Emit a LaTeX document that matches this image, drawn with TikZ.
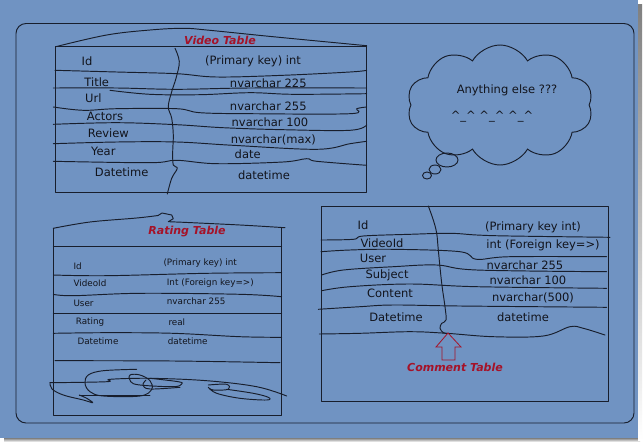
\documentclass[tikz,border=0pt]{standalone}
\usepackage{fontspec}
\setmainfont{DejaVu Sans}
\usetikzlibrary{shapes.symbols}
\definecolor{bg}{RGB}{112,147,194}
\definecolor{ink}{RGB}{24,30,44}
\definecolor{txt}{RGB}{18,20,28}
\definecolor{redink}{RGB}{165,18,40}
\definecolor{shade}{RGB}{150,156,166}
\tikzset{
  pen/.style={draw=ink, line width=0.95pt, line cap=round, line join=round},
  wv/.style={pen, smooth, tension=0.6},
  vt/.style={text=txt, font=\fontsize{11.5}{13}\selectfont, inner sep=0pt},
  rt/.style={text=txt, font=\fontsize{8.8}{10}\selectfont, inner sep=0pt, anchor=west},
  ct/.style={text=txt, font=\fontsize{11.5}{13}\selectfont, inner sep=0pt},
  ttl/.style={text=redink, font=\itshape\bfseries\fontsize{11}{13}\selectfont, inner sep=0pt},
}
\begin{document}
\begin{tikzpicture}[x=1pt,y=-1pt]
\useasboundingbox (0,0) rectangle (644,442);
\fill[white] (0,0) rectangle (644,442);
\fill[shade] (4,438) rectangle (640,442);
\fill[shade] (638,4) rectangle (642,440);
\fill[bg] (0,0) rectangle (638,438);
\draw[pen] (16,23.5) [rounded corners=10pt] rectangle (634,423);

% ---------------- Video table
\draw[pen] (55.7,46.7) -- (366.7,46.7);
\draw[pen] (55.7,46.7) -- (55.7,192) -- (366.7,192) -- (366.7,46);
\draw[wv] plot coordinates {(55.7,46.7) (106.7,35) (150,30) (183,28.3) (206.7,30) (273,36.7) (366.7,45.7)};
\draw[wv] plot coordinates {(175,48.3) (179.3,61.7) (176,78.3) (171.7,91.7) (168.3,106.7) (171.7,118.3) (173.3,135) (172.7,151.7) (173.3,165) (177.3,168.3) (171.7,178.3) (167.3,194)};
\draw[wv] plot coordinates {(55,70.3) (116.7,72) (176.7,73.7) (216.7,77) (283,75.3) (350,72) (366.7,70.3)};
\draw[wv] plot coordinates {(53.3,88) (116.7,88) (176.7,89.3) (250,88) (366.7,88)};
\draw[wv] plot coordinates {(110,90.3) (150,94.3) (200,94.7) (250,92.7) (293.3,94.3) (366.7,93.7)};
\draw[wv] plot coordinates {(53.3,107) (83.3,110.3) (116.7,108.7) (176.7,108.7) (200,112.7) (250,113.7) (350,113.7) (356.7,108.7) (366.7,107)};
\draw[wv] plot coordinates {(53.3,124.3) (116.7,122.7) (176.7,124.7) (223,127.7) (283,129.7) (350,130.3) (366.7,125)};
\draw[wv] plot coordinates {(53.3,143.7) (116.7,142) (176.7,142) (233,145.3) (316.7,149.3) (350,143.7) (366.7,141.3)};
\draw[wv] plot coordinates {(53.3,161.3) (150,162.7) (176.7,160.3) (216.7,163.7) (283,162) (306.7,158.7) (316.7,161.3) (366.7,165.3)};
\node[ttl] (vtitle) at (220,40) {Video Table};
\node[vt] (v1) at (87,61) {Id};
\node[vt] (v2) at (96.7,82.7) {Title};
\node[vt] (v3) at (93.3,98) {Url};
\node[vt] (v4) at (105,116) {Actors};
\node[vt] (v5) at (108.3,133) {Review};
\node[vt] (v6) at (103.3,151.3) {Year};
\node[vt] (v7) at (121.7,172) {Datetime};
\node[vt] (w1) at (253,61) {(Primary key) int};
\node[vt] (w2) at (268.3,83.7) {nvarchar 225};
\node[vt] (w3) at (268.3,106) {nvarchar 255};
\node[vt] (w4) at (270,122.7) {nvarchar 100};
\node[vt] (w5) at (273.3,140.3) {nvarchar(max)};
\node[vt] (w6) at (247.7,154.3) {date};
\node[vt] (w7) at (264,175) {datetime};

% ---------------- Cloud
\node[cloud, cloud puffs=10, cloud puff arc=120, aspect=1.6, draw=ink, line width=0.95pt, minimum width=186pt, minimum height=120pt] (cloud) at (500,105) {};
\draw[pen] (447,160) ellipse (11pt and 7pt);
\draw[pen] (435,169.5) ellipse (6pt and 4.5pt);
\draw[pen] (427,175.5) ellipse (4.5pt and 3.5pt);
\node[ct] (c1) at (507,90) {Anything else ???};
\node[ct] (c2) at (492,117) {\^{}\_\^{} \^{}\_\^{} \^{}\_\^{}};

% ---------------- Rating table
\draw[pen] (53.3,228.3) -- (53.3,415) -- (281.7,415) -- (281.7,227.7);
\draw[wv] plot coordinates {(53.3,228.3) (90,222) (136.7,218) (158,215.5)};
\draw[pen] (158,215.5) -- (162,213) -- (171.7,215) -- (173.3,218.7) -- (168.3,221.7) -- (183.3,222.3);
\draw[wv] plot coordinates {(183.3,222.3) (240,225) (285,227.7)};
\draw[pen] (53.3,246.7) -- (281.7,246.7);
\draw[wv] plot coordinates {(53.3,275) (106.7,275.7) (206.7,273.3) (281.7,272.7)};
\draw[wv] plot coordinates {(53.3,294.3) (73.3,295.7) (140,293.3) (240,294.3) (281.7,296.7)};
\draw[pen] (53.3,313.3) -- (281.7,313.3);
\draw[wv] plot coordinates {(53.3,333.3) (106.7,332.7) (173.3,333.3) (240,336.7) (281.7,337.3)};
\draw[wv] plot coordinates {(55,360.7) (173.3,361) (280,362.7)};
\node[ttl] (rtitle) at (187,232) {Rating Table};
\node[rt] (r1) at (73.3,266.7) {Id};
\node[rt] (r2) at (73.3,283.3) {VideoId};
\node[rt] (r3) at (73.3,303.3) {User};
\node[rt] (r4) at (75.7,322) {Rating};
\node[rt] (r5) at (77.3,341.7) {Datetime};
\node[rt] (s1) at (163.3,262.7) {(Primary key) int};
\node[rt] (s2) at (166.7,283.3) {Int (Foreign key=>)};
\node[rt] (s3) at (166.7,301.7) {nvarchar 255};
\node[rt] (s4) at (168.3,322.3) {real};
\node[rt] (s5) at (167.7,341.7) {datetime};
% scribble
\draw[wv] plot coordinates {(136.7,369.3) (103.3,370.7) (88.3,375) (85,383.3) (90,391.7) (103.3,396) (140,396) (151.7,389.3) (150,380.7) (140,375) (130,375) (130.7,381.7) (140,385) (173.3,386.7) (181.7,384) (178.3,381.7) (150,378.3)};
\draw[wv] plot coordinates {(50,382.7) (106.7,381.7) (110,379.3) (150,378.3) (206.7,380.7) (256.7,386.7) (286.7,396)};
\draw[wv] plot coordinates {(50,382.7) (52,389) (63.3,395) (83.3,400) (92.7,402.7) (86.7,398.3) (79.3,395)};
\draw[pen] (79.3,395) -- (150,395);
\draw[wv] plot coordinates {(208.3,385) (226.7,384.3) (228.3,389.3) (213.3,390) (208.3,387.3) (216.7,393.3) (240,398.3) (266.7,400) (268.3,397.3) (253.3,393.3) (226.7,389.3)};
\draw[wv] plot coordinates {(146,380) (143,385) (150,389) (180,387.3)};

% ---------------- Comment table
\draw[pen] (321,206) rectangle (608,401);
\draw[wv] plot coordinates {(428.3,206) (433.3,220) (436.7,233.3) (438.3,250) (441.7,283.3) (445,306.7) (446,320) (441.7,323.3) (440,328.3) (443.3,332.7) (446.7,333.3)};
\draw[wv] plot coordinates {(321,240) (353.3,239.3) (363.3,236) (410,234.3) (450,233.3) (476.7,235) (510,236) (610,237.3)};
\draw[wv] plot coordinates {(321,251.7) (350,250) (393.3,249.3) (460,251.7) (476.7,259.3) (510,256.7) (606.7,256.7)};
\draw[wv] plot coordinates {(321.7,275) (343.3,270) (393.3,266.7) (436.7,265) (476.7,270) (606.7,271.7)};
\draw[wv] plot coordinates {(321.7,290.7) (350,286.7) (410,284) (476.7,286.7) (606.7,288.3)};
\draw[wv] plot coordinates {(318.3,309.3) (360,306.7) (393.3,305) (460,306) (606.7,307.3)};
\draw[wv] plot coordinates {(319.3,334) (360,333.3) (410,331.7) (446.7,333.3) (493.3,336.7) (543.3,336) (570,326.7) (583.3,328.3) (605,335)};
\node[ct] (k1) at (363,225) {Id};
\node[ct] (k2) at (382,243) {VideoId};
\node[ct] (k3) at (373,258) {User};
\node[ct] (k4) at (387,275) {Subject};
\node[ct] (k5) at (390,293) {Content};
\node[ct] (k6) at (396,317) {Datetime};
\node[ct] (m1) at (533,227) {(Primary key int)};
\node[ct] (m2) at (543,245) {int (Foreign key=>)};
\node[ct] (m3) at (525,265) {nvarchar 255};
\node[ct] (m4) at (528,280) {nvarchar 100};
\node[ct] (m5) at (533,298) {nvarchar(500)};
\node[ct] (m6) at (523,317) {datetime};
\draw[draw=redink, line width=0.8pt, line join=miter] (448,333) -- (461,347) -- (455,347) -- (455,360) -- (442,360) -- (442,347) -- (436,347) -- cycle;
\node[ttl] (ctitle) at (455,367) {Comment Table};
\end{tikzpicture}
\end{document}
